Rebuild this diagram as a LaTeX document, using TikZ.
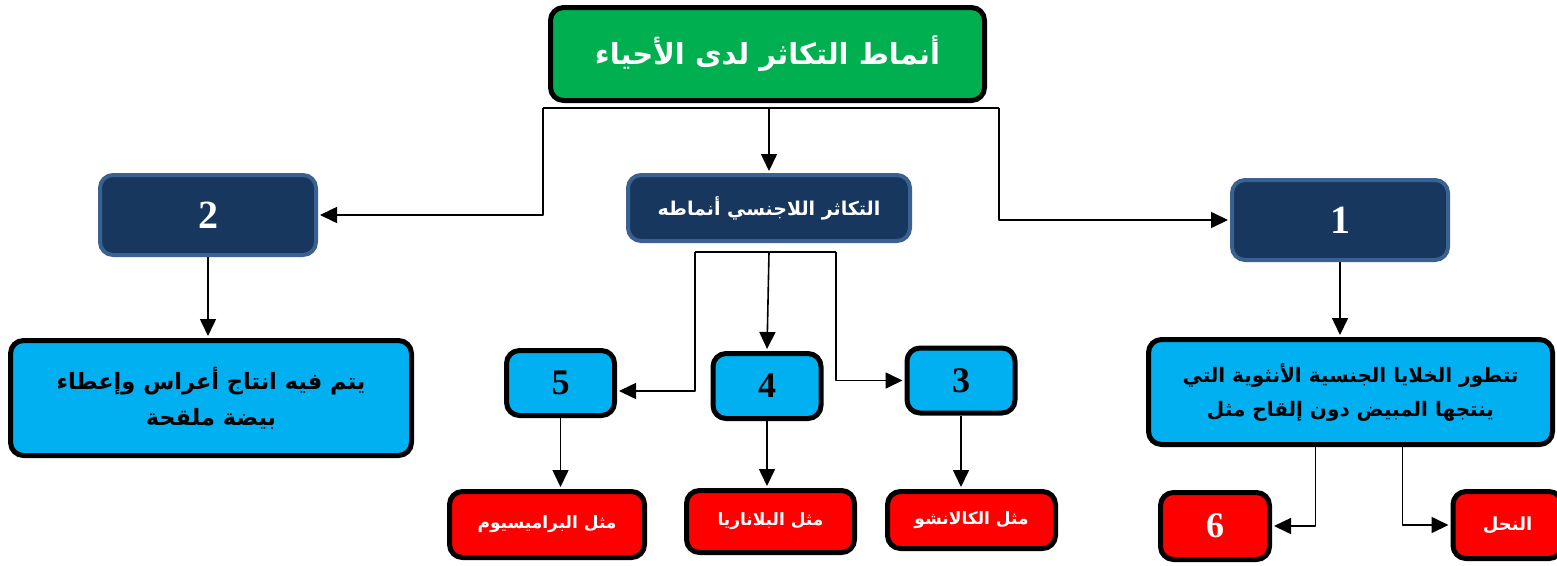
\documentclass[tikz,border=0pt]{standalone}
\usepackage{fontspec}
\setmainfont{Liberation Serif}
\newfontfamily\arabicfont[Script=Arabic]{DejaVu Sans}
\TeXXeTstate=1
\usetikzlibrary{arrows.meta}
\definecolor{titlegreen}{HTML}{00B050}
\definecolor{navy}{HTML}{17375E}
\definecolor{navyedge}{HTML}{3B6190}
\definecolor{skyfill}{HTML}{00B0F0}
\definecolor{redfill}{HTML}{FF0000}
\newcommand{\artext}[1]{{\arabicfont\bfseries\beginR #1\endR}}
\begin{document}
\begin{tikzpicture}[line join=round, x=1pt, y=-1pt, >={Triangle[length=17pt,width=16pt]},
    box/.style={draw=black, line width=5pt, rounded corners=13pt, align=center, inner sep=0pt},
    navybox/.style={box, draw=navyedge, fill=navy, line width=4pt, text=white},
    skybox/.style={box, fill=skyfill, text=black},
    redbox/.style={box, fill=redfill, text=white, font=\fontsize{17}{20}\selectfont},
    arr/.style={->, line width=1.6pt, shorten >=2pt},
    link/.style={line width=1.6pt}
    ]
    \useasboundingbox (0,0) rectangle (1557,565);
    % hang tren
    \node[box, fill=titlegreen, text=white, minimum width=434pt, minimum height=93pt,
        font=\fontsize{29}{36}\selectfont] (title) at (767.5,54) {\artext{أنماط التكاثر لدى الأحياء}};
    \node[navybox, minimum width=282pt, minimum height=66pt, font=\fontsize{19}{23}\selectfont]
        (asex) at (769,208) {\artext{التكاثر اللاجنسي أنماطه}};
    \node[navybox, minimum width=216pt, minimum height=80pt, font=\fontsize{40}{44}\bfseries] (two) at (208,215) {2};
    \node[navybox, minimum width=216pt, minimum height=80pt, font=\fontsize{40}{44}\bfseries] (one) at (1340,220) {1};
    % hang giua
    \node[skybox, minimum width=401pt, minimum height=115pt, font=\fontsize{22.5}{36}\selectfont]
        (zygote) at (211,398) {\artext{يتم فيه انتاج أعراس وإعطاء}\\ \artext{بيضة ملقحة}};
    \node[skybox, minimum width=404pt, minimum height=105pt, font=\fontsize{20}{34}\selectfont]
        (eggs) at (1350.5,392) {\artext{تتطور الخلايا الجنسية الأنثوية التي}\\ \artext{ينتجها المبيض دون إلقاح مثل}};
    \foreach \n/\x/\y/\t in {five/560.5/383/5, four/767/386/4, three/961/380.5/3}
        \node[skybox, minimum width=108pt, minimum height=65pt, font=\fontsize{36}{40}\bfseries] (\n) at (\x,\y) {\t};
    % hang duoi
    \node[redbox, minimum width=195pt, minimum height=66pt] (parame) at (547,524.5) {\artext{مثل البراميسيوم}};
    \node[redbox, minimum width=168pt, minimum height=62pt] (planaria) at (770.5,521.5) {\artext{مثل البلاناريا}};
    \node[redbox, minimum width=168pt, minimum height=57pt] (kalanchoe) at (971.5,520) {\artext{مثل الكالانشو}};
    \node[redbox, minimum width=109pt, minimum height=67pt, font=\fontsize{36}{40}\bfseries] (six) at (1215,526) {6};
    \node[redbox, minimum width=109pt, minimum height=67pt, font=\fontsize{18}{20}\selectfont] (bee) at (1507.5,525) {\artext{النحل}};
    % cac duong noi
    \coordinate (busL) at (543,108);
    \coordinate (busR) at (999,108);
    \coordinate (forkL) at (695,252);
    \coordinate (forkR) at (836,252);
    \draw[link] (busL) -- (busR);
    \draw[arr] (busL) |- (two.east);
    \draw[arr] (busR) |- (one.west);
    \draw[arr] (asex.north |- busL) -- (asex.north);
    \draw[link] (forkL) -- (forkR);
    \draw[arr] (forkL) |- ([yshift=-8pt]five.east);
    \draw[arr] (forkR) |- (three.west);
    \draw[arr] (asex.south |- forkL) -- (four.north);
    \draw[arr] (two.south) -- (two.south |- zygote.north);
    \draw[arr] (one.south) -- (one.south |- eggs.north);
    \foreach \a/\b in {five/parame, four/planaria, three/kalanchoe}
        \draw[arr] (\a.south) -- (\a.south |- \b.north);
    \draw[arr] ([xshift=-35pt]eggs.south) |- (six.east);
    \draw[arr] ([xshift=52pt]eggs.south) |- (bee.west);
\end{tikzpicture}
\end{document}
